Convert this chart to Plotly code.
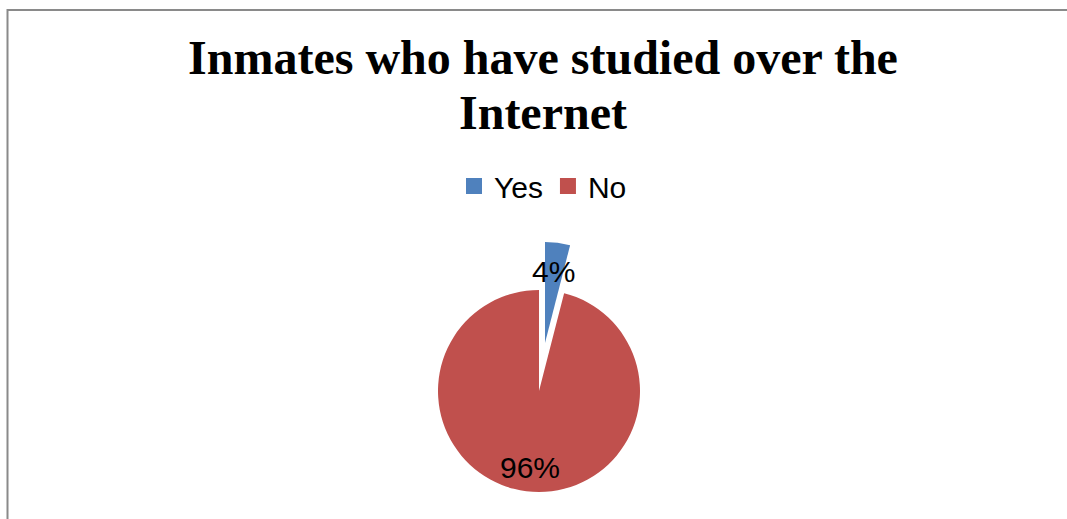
import plotly.graph_objects as go

title_line1 = "Inmates who have studied over the"
title_line2 = "Internet"
labels = ["Yes", "No"]
values = [4, 96]
colors = ["#4F81BD", "#C0504D"]
TRANSPARENT = "rgba(0,0,0,0)"

W, H = 1067, 519
total = sum(values)
pct = [f"{round(v / total * 100)}%" for v in values]

def px_dom_x(cx, r):
    return [(cx - r) / W, (cx + r) / W]

def px_dom_y(cy, r):
    return [1 - (cy + r) / H, 1 - (cy - r) / H]

R = 101
fig = go.Figure()

# Main ("No") part of the pie
fig.add_trace(go.Pie(
    labels=labels, values=values, sort=False, direction="clockwise", rotation=0,
    marker=dict(colors=[TRANSPARENT, colors[1]], line=dict(width=0)),
    textinfo="none", hoverinfo="label+percent", showlegend=False,
    domain=dict(x=px_dom_x(539, R), y=px_dom_y(391, R)),
))
# Exploded ("Yes") slice
fig.add_trace(go.Pie(
    labels=labels, values=values, sort=False, direction="clockwise", rotation=0,
    marker=dict(colors=[colors[0], TRANSPARENT], line=dict(width=0)),
    textinfo="none", hoverinfo="label+percent", showlegend=False,
    domain=dict(x=px_dom_x(545, R), y=px_dom_y(343, R)),
))
# Legend entries
for lab, col in zip(labels, colors):
    fig.add_trace(go.Scatter(
        x=[None], y=[None], mode="markers", name=lab,
        marker=dict(symbol="square", size=17, color=col),
    ))

fig.update_layout(
    width=W, height=H,
    margin=dict(l=0, r=0, t=0, b=0),
    paper_bgcolor="white", plot_bgcolor="white",
    xaxis=dict(visible=False), yaxis=dict(visible=False),
    title=dict(
        text=f"<b>{title_line1}</b>",
        font=dict(family="Liberation Serif", size=48, color="black"),
        x=543 / W, xanchor="center", y=1 - 57 / H, yanchor="middle", yref="container",
    ),
    legend=dict(
        orientation="h", x=543 / W, xanchor="center", y=1 - 186 / H, yanchor="middle",
        font=dict(family="Liberation Sans", size=30, color="black"),
        itemsizing="trace", bgcolor="rgba(0,0,0,0)",
    ),
    annotations=[
        dict(text=f"<b>{title_line2}</b>", x=543 / W, y=1 - 113 / H, xref="paper", yref="paper",
             showarrow=False, xanchor="center", yanchor="middle",
             font=dict(family="Liberation Serif", size=48, color="black")),
        dict(text=pct[0], x=553.5 / W, y=1 - 271 / H, xref="paper", yref="paper",
             showarrow=False, xanchor="center", yanchor="middle",
             font=dict(family="Liberation Sans", size=30, color="black")),
        dict(text=pct[1], x=529.5 / W, y=1 - 467 / H, xref="paper", yref="paper",
             showarrow=False, xanchor="center", yanchor="middle",
             font=dict(family="Liberation Sans", size=30, color="black")),
    ],
    shapes=[
        dict(type="rect", xref="paper", yref="paper",
             x0=7.5 / W, x1=1.02, y0=-0.02, y1=1 - 10 / H,
             line=dict(color="#8a8a8a", width=2), fillcolor="rgba(0,0,0,0)", layer="below"),
    ],
)

fig.write_html("out.html", config={"displayModeBar": False},
               post_script="document.body.style.margin='0';")
